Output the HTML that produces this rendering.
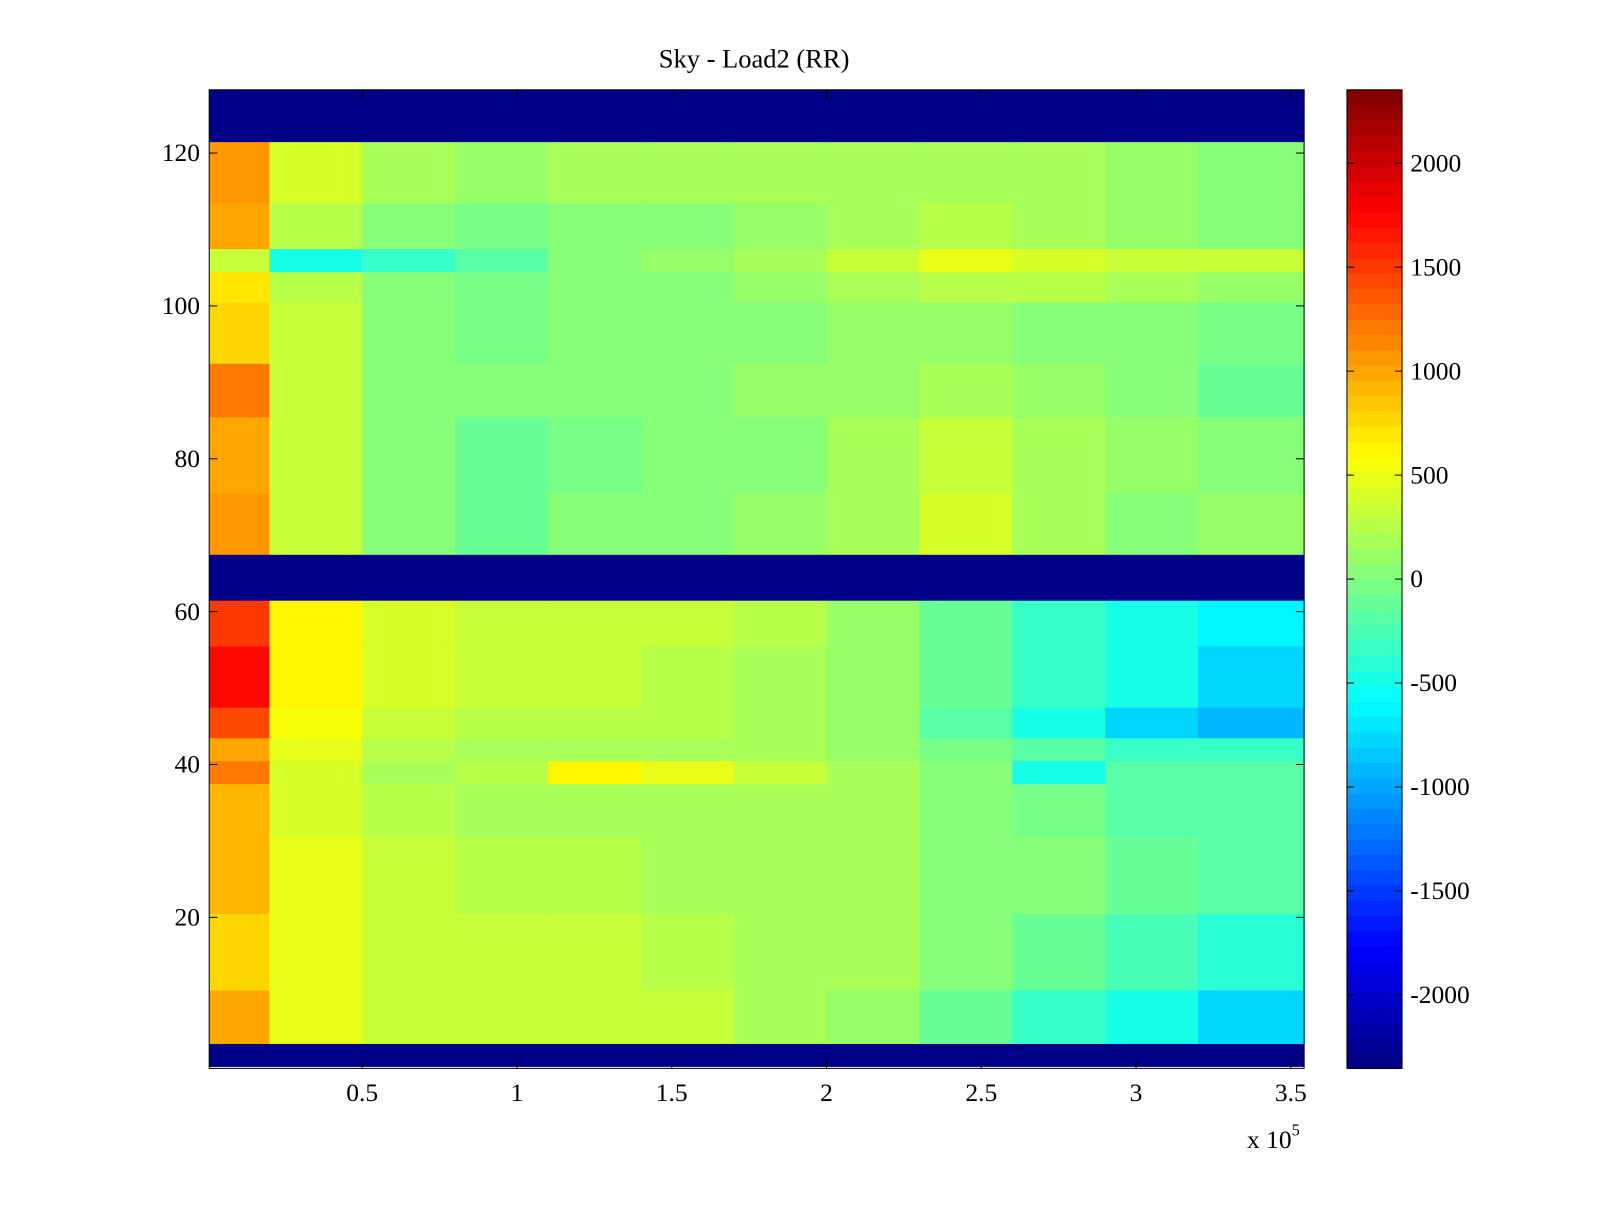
<!DOCTYPE html>
<html><head><meta charset="utf-8"><style>
body{margin:0;background:#fff;}
svg text{font-family:"Liberation Serif",serif;font-size:25px;fill:#000;}
</style></head><body>
<svg id="chart" width="1600" height="1200" viewBox="0 0 1568 1176" preserveAspectRatio="none" xmlns="http://www.w3.org/2000/svg">
<rect width="1568" height="1176" fill="#fff"/>
<text x="739" y="66" text-anchor="middle" style="font-size:26px">Sky - Load2 (RR)</text>
<g id="cells"></g>
<g id="axes"></g>
<g id="cbar"></g>
</svg>
<script>
// data
const colEdges=[0,0.2,0.5,0.8,1.1,1.4,1.7,2.0,2.3,2.6,2.9,3.2,3.543]; // x in 1e5
const rowBands=[[1,3],[4,10],[11,20],[21,30],[31,37],[38,40],[41,43],[44,47],[48,55],[56,61],[62,67],
[68,75],[76,85],[86,92],[93,100],[101,104],[105,107],[108,113],[114,121],[122,128]];
const B=-2353;
const bandValues=[
[B,B,B,B,B,B,B,B,B,B,B,B],
[1000,500,350,300,300,300,200,100,-100,-300,-500,-750],
[800,450,350,300,300,250,200,150,0,-100,-250,-400],
[900,450,300,250,250,200,200,150,50,0,-100,-150],
[900,400,250,200,150,150,150,150,50,-50,-150,-200],
[1200,400,200,250,600,500,300,150,0,-450,-200,-200],
[1000,450,250,200,200,200,150,100,-50,-200,-300,-300],
[1400,550,350,250,250,250,200,100,-150,-450,-750,-900],
[1700,600,400,350,300,250,200,100,-100,-300,-500,-750],
[1500,650,400,350,300,300,250,100,-100,-300,-450,-650],
[B,B,B,B,B,B,B,B,B,B,B,B],
[1100,300,0,-100,0,50,100,200,400,200,50,100],
[1000,300,0,-100,-50,0,50,150,300,200,100,0],
[1200,350,50,0,0,50,100,100,150,100,0,-100],
[800,300,50,-50,0,0,50,100,100,50,0,-50],
[700,250,0,-50,0,50,100,150,250,250,150,100],
[300,-450,-300,-200,0,100,200,300,500,400,300,300],
[1000,250,0,-50,0,50,100,150,250,200,100,50],
[1100,400,150,100,150,150,150,200,200,200,100,50],
[B,B,B,B,B,B,B,B,B,B,B,B]];
const yTicks=[20,40,60,80,100,120];
const xTicks=[0.5,1,1.5,2,2.5,3,3.5];
const xTickLabels=["0.5","1","1.5","2","2.5","3","3.5"];
const cTicks=[-2000,-1500,-1000,-500,0,500,1000,1500,2000];
const cMin=-2353,cMax=2353;

const NS="http://www.w3.org/2000/svg";
const L=205,R=1278,T=88,Bt=1047;
const X=v=>203.3+(v-0)*303.33;
const Y=r=>1048.8-7.49*r;
const CX=1320,CW=54;
const CY=v=>Bt-(v-cMin)/(cMax-cMin)*(Bt-T);
function jet(t){t=Math.max(0,Math.min(1,t));
 const f=x=>Math.round(255*Math.max(0,Math.min(1,1.5-Math.abs(4*t-x))));
 return `rgb(${f(3)},${f(2)},${f(1)})`;}
function col(v){const i=Math.min(63,Math.floor((v-cMin)/(cMax-cMin)*64));return jet((i+0.5)/64);}
function mk(tag,a,p){const e=document.createElementNS(NS,tag);for(const k in a)e.setAttribute(k,a[k]);p.appendChild(e);return e;}
const cells=document.getElementById('cells');
rowBands.forEach((rb,i)=>{
 bandValues[i].forEach((v,j)=>{
  const x0=Math.max(L,X(colEdges[j])),x1=Math.min(R,X(colEdges[j+1]));
  const y0=Math.max(T,Y(rb[1]+0.5)),y1=Math.min(Bt,Y(rb[0]-0.5));
  const r=mk('rect',{x:x0,y:y0,width:x1-x0+0.5,height:y1-y0+0.5,fill:col(v)},cells);
  
  
 });
});
const ax=document.getElementById('axes');
mk('rect',{x:L,y:T,width:R-L,height:Bt-T,fill:'none',stroke:'#000','stroke-width':1},ax);
yTicks.forEach(t=>{const y=Y(t);
 mk('line',{x1:L,x2:L+8,y1:y,y2:y,stroke:'#000'},ax);mk('line',{x1:R,x2:R-8,y1:y,y2:y,stroke:'#000'},ax);
 const tx=mk('text',{x:196,y:y+8,'text-anchor':'end'},ax);tx.textContent=t;
 
 });
xTicks.forEach((t,i)=>{const x=X(t);
 mk('line',{x1:x,x2:x,y1:Bt,y2:Bt-8,stroke:'#000'},ax);mk('line',{x1:x,x2:x,y1:T,y2:T+8,stroke:'#000'},ax);
 const tx=mk('text',{x:x,y:1079,'text-anchor':'middle'},ax);tx.textContent=xTickLabels[i];
 
 });
const ex=mk('text',{x:1222,y:1125},ax);ex.innerHTML='x 10<tspan dy="-12" font-size="16">5</tspan>';


const cb=document.getElementById('cbar');
for(let i=0;i<64;i++){const v0=cMin+i*(cMax-cMin)/64,v1=cMin+(i+1)*(cMax-cMin)/64;
 const r=mk('rect',{x:CX,y:CY(v1),width:CW,height:CY(v0)-CY(v1)+0.5,fill:jet((i+0.5)/64)},cb);
 
 }
mk('rect',{x:CX,y:T,width:CW,height:Bt-T,fill:'none',stroke:'#000'},cb);
cTicks.forEach(t=>{const y=CY(t);
 mk('line',{x1:CX,x2:CX+7,y1:y,y2:y,stroke:'#000'},cb);mk('line',{x1:CX+CW,x2:CX+CW-7,y1:y,y2:y,stroke:'#000'},cb);
 const tx=mk('text',{x:1382,y:y+8},cb);tx.textContent=t;
 
 });
</script>
</body></html>
